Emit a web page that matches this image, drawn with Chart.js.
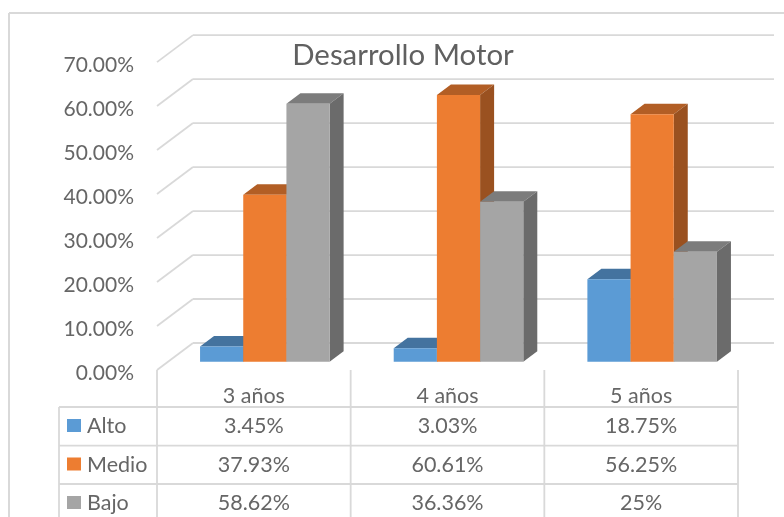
<!DOCTYPE html>
<html>
<head>
<meta charset="utf-8">
<style>html,body{margin:0;padding:0;background:#fff}canvas{display:block}</style>
<script src="https://cdn.jsdelivr.net/npm/chart.js@4"></script>
</head>
<body>
<canvas id="c" width="784" height="517"></canvas>
<script>
const categories = ['3 años', '4 años', '5 años'];
const alto = [3.45, 3.03, 18.75];
const medio = [37.93, 60.61, 56.25];
const bajo = [58.62, 36.36, 25];
const altoLabels = ['3.45%', '3.03%', '18.75%'];
const medioLabels = ['37.93%', '60.61%', '56.25%'];
const bajoLabels = ['58.62%', '36.36%', '25%'];
const seriesNames = ['Alto', 'Medio', 'Bajo'];
const frontColors = ['#5B9BD5', '#ED7D31', '#A5A5A5'];
const topColors = ['#44739F', '#B25E25', '#7C7C7C'];
const sideColors = ['#3B648C', '#9A5120', '#6B6B6B'];

const FONT = 'Lato, "Open Sans", sans-serif';
const GRID = '#D9D9D9';
const TEXT = '#666666';
const barDepth = { dx: 14, dy: -10.5 };
const wall = { frontDx: -11, frontDy: 8.3, backDx: 25, backDy: -18.7 };
const tableRows = [
  { y: 426.5, labels: altoLabels },
  { y: 465, labels: medioLabels },
  { y: 503.5, labels: bajoLabels }
];

function line(ctx, x1, y1, x2, y2) {
  ctx.beginPath(); ctx.moveTo(x1, y1); ctx.lineTo(x2, y2); ctx.stroke();
}
function poly(ctx, pts, color) {
  ctx.fillStyle = color; ctx.beginPath();
  pts.forEach((p, i) => i ? ctx.lineTo(p[0], p[1]) : ctx.moveTo(p[0], p[1]));
  ctx.closePath(); ctx.fill();
}

const scene3d = {
  id: 'scene3d',
  afterLayout(chart) {
    const t = chart.titleBlock;
    t.left = 22; t.right = 784; t.top += 19; t.bottom += 19;
  },
  beforeDraw(chart) {
    const { ctx, chartArea: a, scales: { x, y } } = chart;
    ctx.save();
    // chart frame
    ctx.strokeStyle = GRID; ctx.lineWidth = 2;
    line(ctx, 9, 13, 784, 13);
    line(ctx, 9, 13, 9, 517);
    // walls
    ctx.lineWidth = 1.8;
    y.ticks.forEach(t => {
      const py = y.getPixelForValue(t.value);
      line(ctx, a.left + wall.frontDx, py + wall.frontDy, a.left + wall.backDx, py + wall.backDy);
      line(ctx, a.left + wall.backDx, py + wall.backDy, a.right + wall.backDx, py + wall.backDy);
    });
    // data table
    const step = x.width / categories.length;
    const colX = [];
    for (let i = 0; i <= categories.length; i++) colX.push(x.left + wall.frontDx + i * step);
    const y0 = y.getPixelForValue(0) + wall.frontDy;
    const hLines = [407, 445.7, 484];
    const tableLeft = 59;
    hLines.forEach(h => line(ctx, tableLeft, h, colX[colX.length - 1], h));
    colX.forEach(cx => line(ctx, cx, y0, cx, 517));
    line(ctx, tableLeft, hLines[0], tableLeft, 517);
    // table text and legend keys
    ctx.font = '21.5px ' + FONT; ctx.textBaseline = 'middle';
    tableRows.forEach((r, i) => {
      ctx.fillStyle = frontColors[i];
      ctx.fillRect(67, r.y - 7.5, 14, 13);
      ctx.fillStyle = TEXT;
      ctx.textAlign = 'left';
      ctx.fillText(seriesNames[i], 87, r.y);
      ctx.textAlign = 'center';
      r.labels.forEach((s, j) => ctx.fillText(s, (colX[j] + colX[j + 1]) / 2, r.y));
    });
    ctx.restore();
  },
  // The library paints the first dataset last; the 3D look needs left-to-right painting.
  beforeDatasetDraw() { return false; },
  afterDatasetsDraw(chart) {
    const { ctx } = chart;
    const { dx, dy } = barDepth;
    seriesNames.forEach((name, k) => {
      const meta = chart.getDatasetMeta(k);
      meta.data.forEach(b => {
        const l = b.x - b.width / 2, r = b.x + b.width / 2, t = b.y, bt = b.base;
        poly(ctx, [[l, t], [r, t], [r + dx, t + dy], [l + dx, t + dy]], topColors[k]);
        poly(ctx, [[r, t], [r + dx, t + dy], [r + dx, bt + dy], [r, bt]], sideColors[k]);
      });
      meta.controller.draw();
    });
  }
};

new Chart(document.getElementById('c'), {
  type: 'bar',
  plugins: [scene3d],
  data: {
    labels: categories,
    datasets: [
      { label: seriesNames[0], data: alto, backgroundColor: frontColors[0] },
      { label: seriesNames[1], data: medio, backgroundColor: frontColors[1] },
      { label: seriesNames[2], data: bajo, backgroundColor: frontColors[2] }
    ]
  },
  options: {
    responsive: false,
    animation: false,
    devicePixelRatio: 1,
    layout: { padding: { left: 0, top: 20, right: 35, bottom: 0 } },
    datasets: { bar: { barPercentage: 1, categoryPercentage: 0.669, borderWidth: 0 } },
    plugins: {
      legend: { display: false },
      tooltip: { enabled: false },
      title: {
        display: true, text: 'Desarrollo Motor', color: '#606060',
        font: { family: FONT, size: 29.4, weight: 'normal', lineHeight: 1.15 },
        padding: 0
      }
    },
    scales: {
      x: {
        afterFit(s) { s.height = 155.3; },
        grid: { display: false }, border: { display: false },
        ticks: {
          color: TEXT, font: { family: FONT, size: 21.5 }, padding: 13,
          labelOffset: -11, maxRotation: 0, autoSkip: false
        }
      },
      y: {
        min: 0, max: 70,
        afterFit(s) { s.width = 168; },
        grid: { display: false }, border: { display: false },
        ticks: {
          stepSize: 10, color: TEXT, font: { family: FONT, size: 21 }, padding: 26,
          labelOffset: 11.5, callback: v => v.toFixed(2) + '%'
        }
      }
    }
  }
});
</script>
</body>
</html>
